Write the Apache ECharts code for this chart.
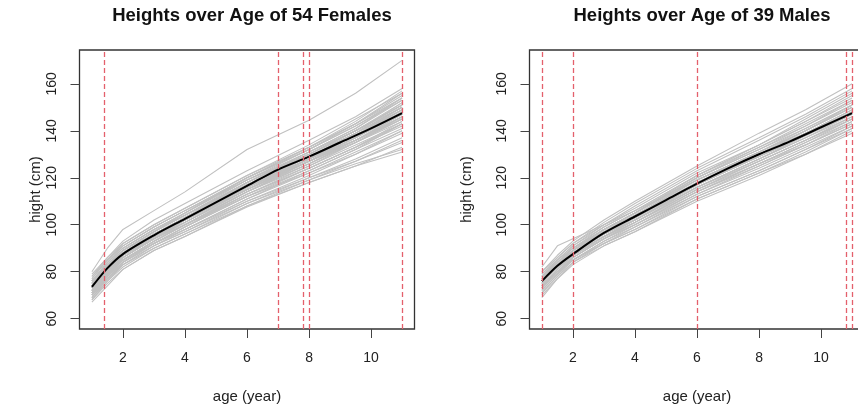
<!DOCTYPE html>
<html>
<head>
<meta charset="utf-8">
<script src="https://cdn.jsdelivr.net/npm/echarts@6/dist/echarts.min.js"></script>
<style>
  html, body { margin: 0; padding: 0; background: #fff; }
  #chart { width: 858px; height: 412px; }
</style>
</head>
<body>
<div id="chart"></div>
<script>
// ages at which each child's height is drawn
const curveAges = [1, 1.5, 2, 3, 4, 6, 8, 9.5, 11];
const meanAges = [1, 1.5, 2, 3, 4, 5, 6, 7, 8, 9, 10, 11];

// 54 girls, heights (cm) at curveAges
const femaleHeights = [
  [80, 90, 98, 106, 114, 132, 144.5, 156, 170],
  [79, 86, 93, 102, 109, 123, 136, 146, 158],
  [77, 85, 92, 100, 107, 121, 134, 145, 156],
  [76, 84, 91, 99, 106, 120, 133, 143, 155],
  [78, 85, 91, 99, 106, 120, 132, 142, 153],
  [75, 83, 89, 97, 104, 119, 131, 141, 154],
  [74, 82, 89, 97, 104, 118, 131, 140, 152],
  [76, 83, 89, 97, 104, 118, 130, 139, 150],
  [73, 81, 88, 96, 103, 117, 130, 140, 151],
  [74, 82, 88, 96, 103, 117, 129, 139, 150],
  [72, 80, 87, 95, 102, 116, 129, 139, 152],
  [75, 82, 88, 96, 103, 116, 128, 137, 148],
  [73, 81, 87, 95, 102, 116, 128, 138, 149],
  [71, 79, 86, 94, 101, 115, 128, 138, 150],
  [74, 81, 87, 95, 102, 115, 127, 136, 146],
  [72, 80, 87, 95, 102, 116, 128, 137, 147],
  [73, 80, 86, 94, 101, 115, 127, 137, 148],
  [70, 78, 85, 93, 100, 114, 127, 137, 149],
  [75, 83, 89, 97, 104, 117, 128, 136, 145],
  [72, 79, 86, 94, 101, 115, 126, 135, 145],
  [71, 79, 85, 93, 100, 114, 126, 136, 147],
  [73, 81, 87, 95, 101, 114, 125, 134, 143],
  [69, 77, 84, 92, 99, 113, 125, 135, 146],
  [72, 80, 86, 94, 100, 113, 124, 133, 142],
  [70, 78, 84, 92, 99, 112, 124, 133, 144],
  [71, 78, 85, 92, 99, 112, 123, 132, 141],
  [68, 76, 83, 91, 98, 111, 123, 132, 143],
  [74, 81, 87, 94, 100, 112, 122, 130, 139],
  [70, 77, 83, 91, 97, 110, 121, 130, 140],
  [69, 76, 82, 90, 96, 109, 120, 128, 137],
  [72, 79, 85, 92, 98, 110, 120, 127, 135],
  [68, 75, 81, 89, 95, 108, 119, 127, 136],
  [70, 77, 83, 90, 96, 108, 118, 125, 133],
  [67, 74, 81, 89, 95, 107.5, 118, 125, 131],
  [71, 78, 84, 91, 97, 109, 119, 126, 132],
  [77, 85, 91, 99, 106, 119, 130, 140, 151],
  [76, 84, 90, 98, 105, 119, 132, 142, 154],
  [78, 86, 92, 100, 107, 121, 133, 143, 154],
  [74, 82, 89, 97, 105, 120, 132, 143, 156],
  [75, 83, 90, 98, 105, 120, 133, 144, 157],
  [73, 80, 87, 96, 103, 118, 131, 141, 153],
  [76, 84, 90, 98, 104, 118, 130, 140, 151],
  [72, 80, 87, 95, 103, 118, 130, 140, 150],
  [74, 82, 88, 96, 103, 117, 129, 138, 148],
  [73, 81, 88, 96, 103, 117, 129, 139, 149],
  [75, 82, 88, 96, 103, 117, 129, 138, 147],
  [71, 79, 86, 94, 102, 116, 128, 138, 149],
  [74, 82, 88, 95, 102, 116, 127, 136, 146],
  [72, 80, 86, 94, 101, 115, 127, 136, 147],
  [73, 81, 87, 95, 102, 115, 127, 136, 146],
  [70, 78, 85, 93, 100, 114, 126, 135, 145],
  [76, 83, 89, 96, 103, 116, 127, 135, 144],
  [71, 79, 85, 93, 100, 113, 124, 133, 143],
  [69, 77, 84, 92, 98, 111, 122, 131, 140]
];

// 39 boys, heights (cm) at curveAges
const maleHeights = [
  [82, 91, 94, 100, 106, 119, 130, 139, 148],
  [69, 77, 83, 91, 97, 111, 122, 131, 141],
  [80, 87, 93, 102, 110, 125, 139, 149, 160],
  [79, 86, 92, 101, 109, 124, 137, 147, 158],
  [78, 85, 91, 100, 108, 123, 136, 146, 157],
  [80, 86, 92, 100, 107, 122, 134, 144, 154],
  [77, 84, 90, 99, 106, 121, 134, 144, 155],
  [78, 84, 90, 98, 105, 120, 132, 142, 152],
  [76, 83, 89, 98, 105, 120, 133, 142, 153],
  [77, 83, 89, 97, 104, 119, 131, 140, 150],
  [75, 82, 88, 97, 104, 119, 131, 141, 151],
  [76, 83, 89, 97, 104, 118, 130, 139, 149],
  [74, 81, 88, 96, 103, 118, 130, 140, 150],
  [77, 84, 89, 97, 103, 117, 129, 138, 147],
  [75, 82, 88, 96, 103, 117, 129, 138, 148],
  [73, 80, 87, 95, 102, 117, 129, 139, 149],
  [76, 82, 88, 96, 102, 116, 128, 137, 146],
  [74, 81, 87, 95, 102, 116, 128, 137, 147],
  [72, 79, 86, 94, 101, 116, 128, 138, 148],
  [75, 82, 87, 95, 101, 115, 127, 136, 145],
  [73, 80, 86, 94, 101, 115, 127, 136, 146],
  [74, 80, 86, 94, 100, 114, 126, 135, 144],
  [71, 78, 85, 93, 100, 114, 126, 135, 145],
  [76, 82, 87, 94, 100, 113, 125, 134, 143],
  [72, 79, 85, 93, 99, 113, 124, 133, 142],
  [73, 80, 85, 92, 99, 112, 123, 132, 141],
  [70, 77, 84, 92, 98, 112, 123, 132, 142],
  [74, 80, 85, 92, 98, 111, 122, 130, 139],
  [71, 78, 84, 91, 97, 110, 121, 130, 140],
  [78, 85, 91, 99, 106, 121, 133, 143, 153],
  [79, 85, 90, 98, 105, 119, 131, 140, 150],
  [77, 83, 89, 98, 105, 121, 134, 145, 156],
  [75, 83, 89, 98, 105, 120, 132, 141, 151],
  [78, 84, 90, 98, 104, 118, 129, 138, 147],
  [76, 83, 89, 96, 103, 118, 130, 139, 148],
  [73, 81, 87, 95, 102, 117, 130, 140, 151],
  [75, 82, 88, 96, 102, 116, 127, 136, 145],
  [72, 79, 86, 94, 101, 115, 126, 134, 143],
  [77, 83, 88, 95, 101, 114, 125, 134, 144]
];

// mean curves at meanAges
const femaleMean = [73.5, 81.5, 87.5, 95.5, 102.5, 109.5, 116.5, 123.5, 129, 135, 141, 147.5];
const maleMean = [76, 82.5, 87.5, 96.5, 103.5, 110.5, 117.5, 124, 130, 135.5, 141.5, 147.5];

// red dashed reference ages
const femaleBreaks = [1.4, 7, 7.8, 8, 11];
const maleBreaks = [1, 2, 6, 10.8, 11];

const titles = ['Heights over Age of 54 Females', 'Heights over Age of 39 Males'];
const xTicks = [2, 4, 6, 8, 10];
const yTicks = [60, 80, 100, 120, 140, 160];

const FONT = '"Liberation Sans", Arial, Helvetica, sans-serif';
const gridLefts = [79.5, 529.5];
const gridWidth = 335;
const yNameGaps = [36, 55];

const chart = echarts.init(document.getElementById('chart'), null, { renderer: 'canvas' });

function pairs(xs, ys) {
  return xs.map((x, i) => [x, ys[i]]);
}

const series = [];
[[femaleHeights, femaleMean, femaleBreaks], [maleHeights, maleMean, maleBreaks]].forEach(([rows, mean, breaks], g) => {
  rows.forEach(row => {
    series.push({
      type: 'line', xAxisIndex: g, yAxisIndex: g,
      data: pairs(curveAges, row),
      symbol: 'none', silent: true, z: 2,
      lineStyle: { color: '#c0c0c0', width: 1.1 }
    });
  });
  series.push({
    type: 'line', xAxisIndex: g, yAxisIndex: g,
    data: pairs(meanAges, mean),
    symbol: 'none', silent: true, smooth: 0.3, z: 3,
    lineStyle: { color: '#000', width: 2 }
  });
  series.push({
    type: 'line', xAxisIndex: g, yAxisIndex: g,
    data: [], silent: true, z: 4,
    markLine: {
      silent: true, symbol: 'none', animation: false,
      label: { show: false },
      lineStyle: { color: '#e4606c', width: 1.3, type: [5, 3] },
      data: breaks.map(b => ({ xAxis: b }))
    }
  });
});

const option = {
  animation: false,
  backgroundColor: '#fff',
  title: titles.map((t, i) => ({
    text: t,
    left: gridLefts[i] + gridWidth / 2,
    textAlign: 'center',
    top: 1,
    textStyle: { fontFamily: FONT, fontSize: 18.5, fontWeight: 'bold', color: '#111' }
  })),
  grid: gridLefts.map(l => ({
    left: l, width: gridWidth, top: 50, bottom: 83,
    show: true, borderColor: '#333', borderWidth: 1.3,
    backgroundColor: 'transparent',
    outerBoundsMode: 'none'
  })),
  xAxis: [0, 1].map(i => ({
    type: 'value', gridIndex: i, min: 0.6, max: 11.4,
    name: 'age (year)', nameLocation: 'middle', nameGap: 60,
    nameTextStyle: { fontFamily: FONT, fontSize: 15, color: '#222' },
    axisLine: { show: false },
    splitLine: { show: false },
    axisTick: { show: true, inside: false, length: 9, customValues: xTicks, lineStyle: { color: '#444' } },
    axisLabel: { customValues: xTicks, margin: 22, fontFamily: FONT, fontSize: 14, color: '#222' }
  })),
  yAxis: [0, 1].map(i => ({
    type: 'value', gridIndex: i, min: 55.6, max: 174.4,
    name: 'hight (cm)', nameLocation: 'middle', nameGap: yNameGaps[i], nameRotate: 90,
    nameTextStyle: { fontFamily: FONT, fontSize: 15, color: '#222' },
    axisLine: { show: false },
    splitLine: { show: false },
    axisTick: { show: true, inside: false, length: 9, customValues: yTicks, lineStyle: { color: '#444' } },
    axisLabel: { customValues: yTicks, rotate: 90, margin: 20, fontFamily: FONT, fontSize: 14, color: '#222' }
  })),
  series: series
};

chart.setOption(option);
</script>
</body>
</html>
